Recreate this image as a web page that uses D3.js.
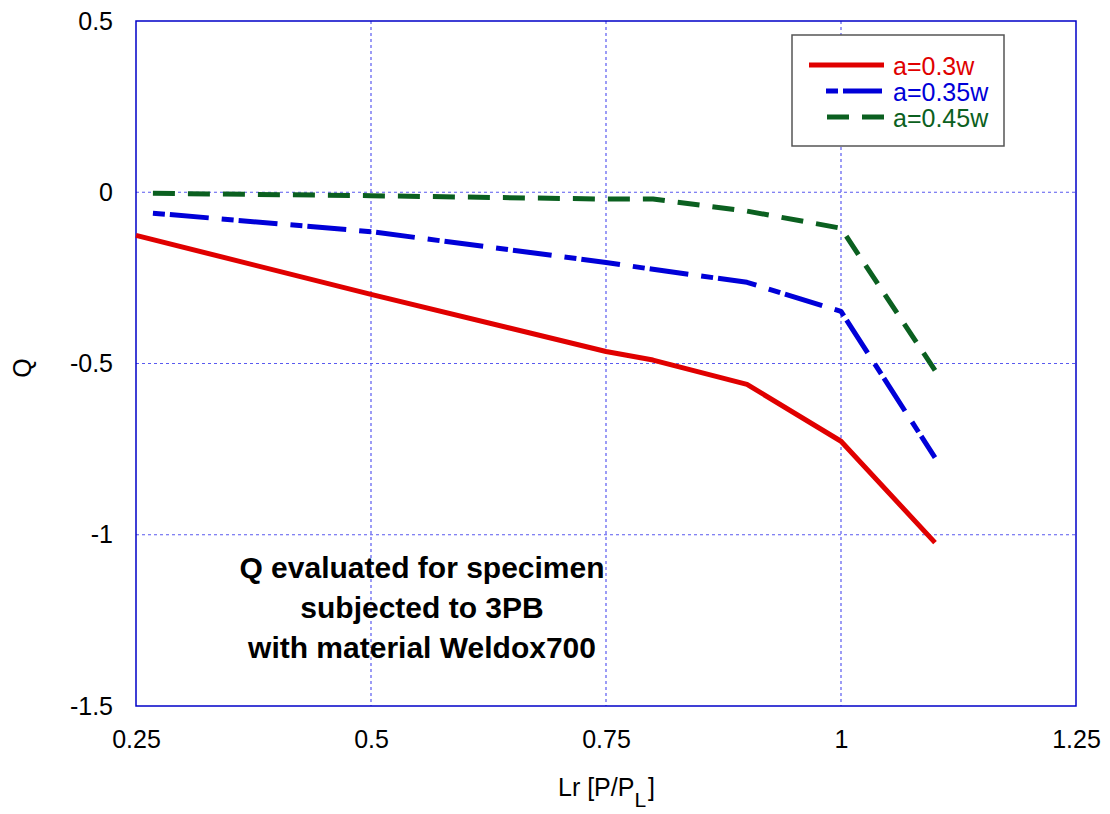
<!DOCTYPE html>
<html>
<head>
<meta charset="utf-8">
<script src="https://cdn.jsdelivr.net/npm/d3@7"></script>
<style>
  html, body { margin: 0; padding: 0; background: #fff; }
  svg { display: block; font-family: Arial, "Liberation Sans", sans-serif; }
</style>
</head>
<body>
<svg id="chart" width="1110" height="814"></svg>
<script>
// Q parameter versus load ratio Lr for three crack depths
const seriesNames = ["a=0.3w", "a=0.35w", "a=0.45w"];
const lrRed   = [0.25, 0.5, 0.75, 0.8, 0.9, 1.0, 1.1];
const qRed    = [-0.126, -0.298, -0.465, -0.49, -0.561, -0.727, -1.023];
const lrBlue  = [0.268, 0.5, 0.75, 0.8, 0.9, 1.0, 1.1];
const qBlue   = [-0.061, -0.115, -0.205, -0.225, -0.263, -0.348, -0.775];
const lrGreen = [0.268, 0.5, 0.75, 0.8, 0.9, 1.0, 1.1];
const qGreen  = [-0.003, -0.01, -0.02, -0.02, -0.055, -0.105, -0.52];

const xTicks = [0.25, 0.5, 0.75, 1, 1.25];
const yTicks = [0.5, 0, -0.5, -1, -1.5];
const xGrid = [0.5, 0.75, 1];
const yGrid = [0, -0.5, -1];
const noteLines = ["Q evaluated for specimen", "subjected to 3PB", "with material Weldox700"];

const svg = d3.select("#chart");
const x = d3.scaleLinear().domain([0.25, 1.25]).range([136, 1076]);
const y = d3.scaleLinear().domain([-1.5, 0.5]).range([706, 21]);

const gridColor = "#5a5af0";
const frameColor = "#0000c8";

// dotted grid
svg.append("g").selectAll("line").data(xGrid).join("line")
  .attr("x1", d => x(d)).attr("x2", d => x(d))
  .attr("y1", y(0.5)).attr("y2", y(-1.5))
  .attr("stroke", gridColor).attr("stroke-width", 1.2)
  .attr("stroke-dasharray", "3,3");
svg.append("g").selectAll("line").data(yGrid).join("line")
  .attr("x1", x(0.25)).attr("x2", x(1.25))
  .attr("y1", d => y(d)).attr("y2", d => y(d))
  .attr("stroke", gridColor).attr("stroke-width", 1.2)
  .attr("stroke-dasharray", "3,3");

// plot frame
svg.append("rect")
  .attr("x", x(0.25)).attr("y", y(0.5))
  .attr("width", x(1.25) - x(0.25)).attr("height", y(-1.5) - y(0.5))
  .attr("fill", "none").attr("stroke", frameColor).attr("stroke-width", 1.5);

// axes (labels only; frame drawn above), plain hyphen for negatives
const fmt = d => String(d);
const xAxis = svg.append("g").attr("transform", `translate(0,${y(-1.5)})`)
  .call(d3.axisBottom(x).tickValues(xTicks).tickFormat(fmt).tickSize(0).tickPadding(24));
xAxis.select(".domain").remove();
xAxis.selectAll("text").attr("font-size", 25).attr("font-family", "Arial, 'Liberation Sans', sans-serif").attr("fill", "#000");

const yAxis = svg.append("g").attr("transform", `translate(${x(0.25)},0)`)
  .call(d3.axisLeft(y).tickValues(yTicks).tickFormat(fmt).tickSize(0).tickPadding(23));
yAxis.select(".domain").remove();
yAxis.selectAll("text").attr("font-size", 25).attr("font-family", "Arial, 'Liberation Sans', sans-serif").attr("fill", "#000");

// data lines
const series = [
  { name: seriesNames[2], xs: lrGreen, ys: qGreen, color: "#0b6020", dash: "22,13" },
  { name: seriesNames[1], xs: lrBlue,  ys: qBlue,  color: "#0000d8", dash: "12,5,39,13" },
  { name: seriesNames[0], xs: lrRed,   ys: qRed,   color: "#e00000", dash: null }
];
const line = d3.line().x(d => x(d[0])).y(d => y(d[1]));
series.forEach(s => {
  svg.append("path")
    .datum(s.xs.map((v, i) => [v, s.ys[i]]))
    .attr("d", line)
    .attr("fill", "none")
    .attr("stroke", s.color)
    .attr("stroke-width", 5)
    .attr("stroke-linejoin", "round")
    .attr("stroke-dasharray", s.dash);
});

// legend
const legend = svg.append("g");
legend.append("rect")
  .attr("x", 792).attr("y", 35).attr("width", 212).attr("height", 111)
  .attr("fill", "#fff").attr("stroke", "#555").attr("stroke-width", 1.5);
const legendItems = [
  { name: seriesNames[0], color: "#e00000", dash: null, x1: 809 },
  { name: seriesNames[1], color: "#0000d8", dash: "12,5,39,13", x1: 826 },
  { name: seriesNames[2], color: "#0b6020", dash: "22,13", x1: 827 }
];
legendItems.forEach((d, i) => {
  const ly = 65 + i * 26;
  legend.append("line")
    .attr("x1", d.x1).attr("x2", 884).attr("y1", ly).attr("y2", ly)
    .attr("stroke", d.color).attr("stroke-width", 5)
    .attr("stroke-dasharray", d.dash);
  legend.append("text")
    .attr("x", 893).attr("y", ly + 10)
    .attr("font-size", 25).attr("fill", d.color)
    .text(d.name);
});

// annotation
const note = svg.append("text")
  .attr("text-anchor", "middle").attr("font-weight", "bold")
  .attr("font-size", 30).attr("fill", "#000");
noteLines.forEach((t, i) => {
  note.append("tspan").attr("x", 422).attr("y", 578 + i * 40).text(t);
});

// axis titles
const xt = svg.append("text").attr("x", 558).attr("y", 796)
  .attr("font-size", 25).attr("fill", "#000");
xt.append("tspan").text("Lr [P/P");
xt.append("tspan").attr("dy", 11).attr("font-size", 21).text("L");
xt.append("tspan").attr("dy", -11).attr("dx", 2).text("]");

svg.append("text")
  .attr("transform", "translate(31,368) rotate(-90)")
  .attr("text-anchor", "middle")
  .attr("font-size", 25).attr("fill", "#000")
  .text("Q");
</script>
</body>
</html>
